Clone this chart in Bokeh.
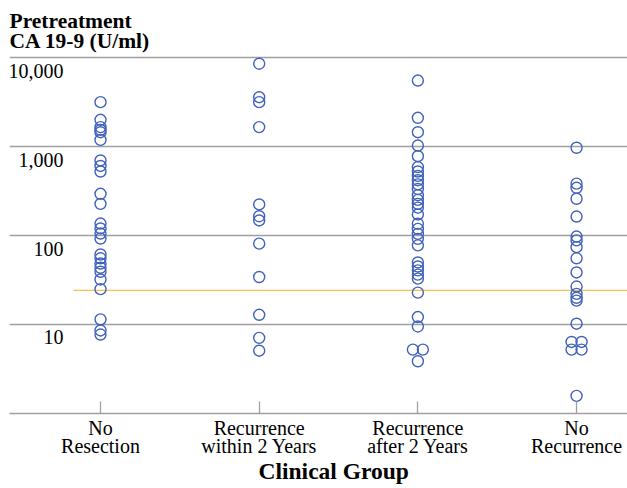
from bokeh.plotting import figure
from bokeh.models import FixedTicker, Title, Grid
from bokeh.core.properties import value
from bokeh.embed import file_html
from bokeh.resources import INLINE

# ---- data ----
groups = ["No\nResection", "Recurrence\nwithin 2 Years", "Recurrence\nafter 2 Years", "No\nRecurrence"]

no_resection = [4470, 2830, 2340, 2180, 2050, 1680, 985, 855, 740, 415, 320, 192, 169, 148,
                130, 86, 78, 68, 61, 55, 45, 35, 16, 12, 10.8]
recur_within_2y = [12100, 5080, 4470, 2340, 315, 232, 208, 114, 48, 18, 9.9, 7.1]
recur_after_2y = [7830, 2980, 2050, 1450, 1100, 830, 740, 660, 590, 530, 470, 400, 355, 320,
                  290, 243, 191, 167, 147, 129, 109, 70, 63, 57, 51, 46, 32, 17, 13.3, 7.3, 7.3, 5.4]
no_recurrence = [1370, 540, 485, 365, 230, 137, 124, 104, 78, 54, 37.5, 31, 28, 26, 14.3,
                 8.9, 8.9, 7.3, 7.3, 2.2]

y_ticks = [10, 100, 1000, 10000]
y_tick_labels = ["10", "100", "1,000", "10,000"]
cutoff = 34

y_title = "Pretreatment\nCA 19-9 (U/ml)"
x_title = "Clinical Group"

# ---- layout / style ----
FONT = "Liberation Serif"
GRAY = "#a0a0a0"
BLUE = "#4062bb"
X_START, X_END = -0.5735, 3.321
Y_START, Y_END = 1.393, 15780
GRID_SHIFT = 10 ** (13.3 / 88.8)
DX = 0.063

p = figure(width=627, height=488, output_backend="svg", toolbar_location=None,
           x_range=(X_START, X_END), y_range=(Y_START, Y_END),
           y_axis_type="log", y_axis_location=None,
           min_border_left=9, min_border_right=0, min_border_top=53, min_border_bottom=75)
p.outline_line_color = None
p.background_fill_color = "white"
p.border_fill_color = "white"
p.xgrid.visible = False
p.ygrid.visible = False

p.add_layout(Grid(dimension=1, ticker=FixedTicker(ticks=[t * GRID_SHIFT for t in y_ticks]),
                  grid_line_color=GRAY, grid_line_width=1.3), "center")

# x axis
ax = p.xaxis[0]
ax.ticker = FixedTicker(ticks=list(range(len(groups))))
ax.major_label_overrides = {i: g for i, g in enumerate(groups)}
ax.major_label_text_font = FONT
ax.major_label_text_font_size = "20px"
ax.major_label_text_color = "black"
ax.major_label_text_line_height = 0.86
ax.major_label_standoff = 3
ax.major_tick_in = 12
ax.major_tick_out = 0
ax.major_tick_line_color = GRAY
ax.major_tick_line_width = 1.3
ax.minor_tick_line_color = None
ax.axis_line_color = GRAY
ax.axis_line_width = 1.3

# x-axis caption (slightly right of the frame centre, as in the reference)
p.add_layout(Title(text=x_title, text_font=FONT, text_font_size="23.5px", text_font_style="bold",
                   text_color="black", align="left", offset=249, standoff=-9), "below")

# y-axis caption at top-left
p.add_layout(Title(text=y_title, text_font=FONT, text_font_size="21.5px", text_font_style="bold",
                   text_color="black", text_line_height=0.85, align="left", standoff=1), "above")

# y tick labels, drawn inside the frame
p.text(x=[X_START] * len(y_ticks), y=y_ticks, text=y_tick_labels, x_offset=54,
       text_align="right", text_baseline="middle", text_font=value(FONT),
       text_font_size="20px", text_color="black")

# reference cutoff line
p.segment(x0=[-0.17], y0=[cutoff], x1=[X_END], y1=[cutoff], line_color="#f5c04a", line_width=1.3)

# points
series = [no_resection, recur_within_2y, recur_after_2y, no_recurrence]
xs, ys = [], []
for i, vals in enumerate(series):
    counts = {}
    for v in vals:
        counts[v] = counts.get(v, 0) + 1
    seen = {}
    for v in vals:
        k = counts[v]
        j = seen.get(v, 0)
        seen[v] = j + 1
        xs.append(i + (j - (k - 1) / 2) * DX)
        ys.append(v)
p.scatter(xs, ys, marker="circle", size=11, fill_color=None, line_color=BLUE, line_width=1.4)

open("out.html", "w").write(file_html(p, INLINE))
